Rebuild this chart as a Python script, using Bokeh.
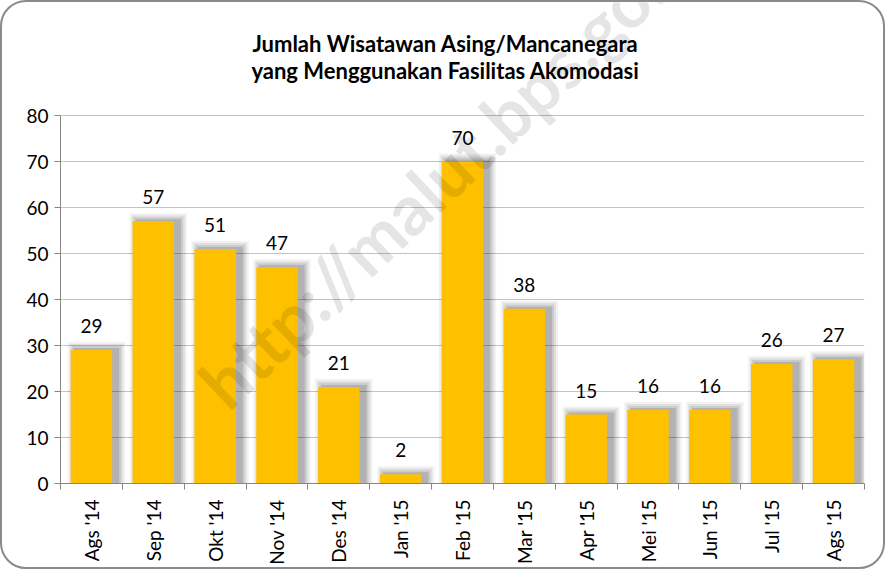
from bokeh.plotting import figure
from bokeh.models import Range1d, FixedTicker, Label, ColumnDataSource
from bokeh.core.properties import value
from bokeh.embed import file_html
from bokeh.resources import INLINE
import math

months = ["Ags '14", "Sep '14", "Okt '14", "Nov '14", "Des '14", "Jan '15", "Feb '15",
          "Mar '15", "Apr '15", "Mei '15", "Jun '15", "Jul '15", "Ags '15"]
visitors = [29, 57, 51, 47, 21, 2, 70, 38, 15, 16, 16, 26, 27]
y_ticks = [0, 10, 20, 30, 40, 50, 60, 70, 80]
title_lines = ["Jumlah Wisatawan Asing/Mancanegara", "yang Menggunakan Fasilitas Akomodasi"]
watermark = "http://malut.bps.go.id"

FONT = "Lato"
W, H = 885, 569
FL, FR, FB = 58, 23, 88          # frame borders (px)
frame_h = H - FB                 # frame from top of figure down to axis
px_per_unit = 368 / 80.0         # 80 units span 368 px
y_top = frame_h / px_per_unit
xs = [i + 0.5 for i in range(len(months))]
src = ColumnDataSource(dict(x=xs, v=visitors, lab=[str(v) for v in visitors]))

p = figure(width=W, height=H, output_backend="svg", toolbar_location=None,
           x_range=Range1d(0, len(months)), y_range=Range1d(0, y_top),
           min_border_left=FL, min_border_right=FR, min_border_top=0, min_border_bottom=FB)
p.border_fill_color = None
p.background_fill_color = None
p.outline_line_color = None
p.styles = {"border": "2px solid #8a8a8a", "border-radius": "26px"}

# grid
p.xgrid.grid_line_color = None
p.ygrid.grid_line_color = "#b1c6e1"
p.ygrid.grid_line_width = 1

# shadows
xpx = len(months) / (W - FL - FR)
for ext, a in [(8, 0.05), (6, 0.07), (4, 0.09), (2, 0.12)]:
    w = 0.67 + 2 * ext * xpx
    p.vbar(x=[x + 5 * xpx for x in xs], top=[v + ext / px_per_unit for v in visitors], bottom=0,
           width=w, fill_color="black", fill_alpha=a, line_color=None)

p.vbar(x="x", top="v", bottom=0, width=0.67, source=src, fill_color="#FFC000", line_color=None)

p.text(x="x", y="v", text="lab", source=src, text_align="center", text_baseline="middle",
       y_offset=-24, text_font=value(FONT), text_font_size="19px", text_color="black")

# titles
cx = (443 - FL) * xpx
for line, fy in zip(title_lines, [41, 68]):
    p.add_layout(Label(x=cx, y=(frame_h - fy) / px_per_unit, text=line, text_align="center",
                       text_baseline="middle", text_font=FONT, text_font_size="22px",
                       text_font_style="bold", text_color="black"))

# axes
p.yaxis.ticker = FixedTicker(ticks=y_ticks)
p.yaxis.bounds = (0, 80)
p.yaxis.axis_line_color = "#868686"
p.yaxis.major_tick_line_color = "#868686"
p.yaxis.major_tick_out = 6
p.yaxis.major_tick_in = 0
p.yaxis.minor_tick_line_color = None
p.yaxis.major_label_text_font = FONT
p.yaxis.major_label_text_font_size = "19px"
p.yaxis.major_label_text_color = "black"
p.yaxis.major_label_standoff = 6

p.xaxis.ticker = FixedTicker(ticks=xs, minor_ticks=list(range(len(months) + 1)))
p.xaxis.major_label_overrides = {x: m for x, m in zip(xs, months)}
p.xaxis.axis_line_color = "#868686"
p.xaxis.major_tick_line_color = None
p.xaxis.minor_tick_line_color = "#868686"
p.xaxis.minor_tick_out = 6
p.xaxis.minor_tick_in = 0
p.xaxis.major_label_orientation = math.pi / 2
p.xaxis.major_label_text_font = FONT
p.xaxis.major_label_text_font_size = "19px"
p.xaxis.major_label_text_color = "black"
p.xaxis.major_label_standoff = 10

wm = Label(x=(208 - FL) * xpx, y=(frame_h - 391) / px_per_unit, text=watermark, angle=0.757,
           text_font=FONT, text_font_size="70px", text_font_style="bold",
           text_color="black", text_alpha=0.1, text_baseline="alphabetic")
p.add_layout(wm)

open("out.html", "w").write(file_html(p, INLINE))
